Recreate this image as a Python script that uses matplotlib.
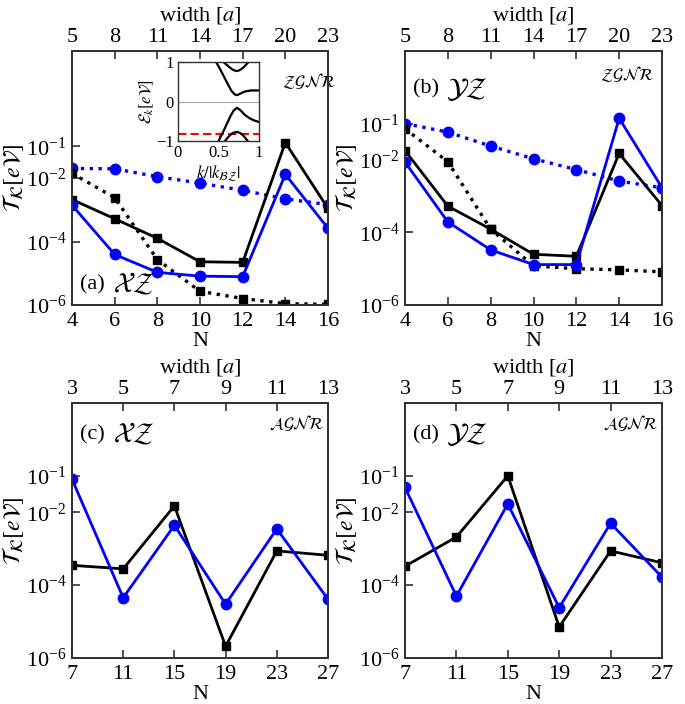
import matplotlib
matplotlib.use('Agg')
import matplotlib.pyplot as plt
from matplotlib.ticker import LogFormatterSciNotation, NullLocator

plt.rcParams['font.family'] = ['Liberation Serif', 'DejaVu Serif']
plt.rcParams['mathtext.fontset'] = 'stix'

# zigzag ribbons (panels a, b)
n_zz = [4, 6, 8, 10, 12, 14, 16]
w_zz = [5, 8, 11, 14, 17, 20, 23]
a_black = [2.1e-3, 5.2e-4, 1.26e-4, 2.3e-5, 2.2e-5, 0.13, 1.1e-3]
a_blue = [1.4e-3, 3.9e-5, 1.07e-5, 8.1e-6, 7.8e-6, 1.3e-2, 2.6e-4]
a_blue_dot = [2.0e-2, 1.95e-2, 1.1e-2, 6.9e-3, 4.1e-3, 2.2e-3, 1.45e-3]
a_black_dot = [1.4e-2, 2.4e-3, 2.7e-5, 2.7e-6, 1.6e-6, 1.1e-6, 1.05e-6]

b_black = [1.8e-2, 5.3e-4, 1.23e-4, 2.5e-5, 2.2e-5, 1.5e-2, 5.5e-4]
b_blue = [8.7e-3, 1.95e-4, 3.3e-5, 1.3e-5, 1.3e-5, 0.14, 1.7e-3]
b_blue_dot = [0.1, 5.8e-2, 2.4e-2, 1.07e-2, 5.4e-3, 2.6e-3, 1.7e-3]
b_black_dot = [7.2e-2, 8.9e-3, 1.23e-4, 1.2e-5, 1.0e-5, 9.3e-6, 8.2e-6]

# armchair ribbons (panels c, d)
n_ac = [7, 11, 15, 19, 23, 27]
w_ac = [3, 5, 7, 9, 11, 13]
c_blue = [8.1e-2, 4.5e-5, 4.4e-3, 3.0e-5, 3.5e-3, 4.1e-5]
c_black = [3.5e-4, 2.8e-4, 1.5e-2, 2.1e-6, 8.7e-4, 6.6e-4]
d_blue = [4.8e-2, 5.0e-5, 1.7e-2, 2.4e-5, 5.0e-3, 1.66e-4]
d_black = [3.3e-4, 2.1e-3, 0.1, 7.1e-6, 8.7e-4, 4.1e-4]

# inset band structure
k_c1 = [0.47, 0.52, 0.57, 0.62, 0.66, 0.70, 0.73, 0.77, 0.82, 0.90, 1.0]
e_c1 = [1.0, 0.82, 0.62, 0.42, 0.27, 0.18, 0.16, 0.20, 0.25, 0.28, 0.28]
k_c2 = [0.56, 0.60, 0.64, 0.68, 0.72, 0.76, 0.80, 0.84, 0.87]
e_c2 = [1.0, 0.93, 0.86, 0.80, 0.77, 0.79, 0.85, 0.93, 1.0]
k_v1 = [0.50, 0.55, 0.60, 0.65, 0.69, 0.73, 0.77, 0.82, 0.88, 0.94, 1.0]
e_v1 = [-1.0, -0.80, -0.58, -0.36, -0.22, -0.16, -0.22, -0.33, -0.42, -0.48, -0.52]
k_v2 = [0.58, 0.62, 0.66, 0.70, 0.73, 0.77, 0.81, 0.86]
e_v2 = [-1.0, -0.90, -0.82, -0.78, -0.77, -0.80, -0.87, -1.0]
e_fermi = -0.82

ylab = r'$\mathcal{T}_{\mathcal{K}}[e\mathcal{V}]$'
spine_col = '#333333'


def style(ax, n, w, ytop):
    ax.set_yscale('log')
    ax.set_xlim(n[0], n[-1])
    ax.set_ylim(1e-6, ytop)
    ax.set_xticks(n)
    ax.set_yticks([1e-6, 1e-4, 1e-2, 1e-1])
    ax.yaxis.set_major_formatter(LogFormatterSciNotation())
    ax.yaxis.set_minor_locator(NullLocator())
    ax.tick_params(direction='in', length=6, width=1.2, labelsize=16,
                   color=spine_col)
    ax.tick_params(axis='x', pad=5)
    ax.tick_params(axis='y', pad=4)
    ax.set_xlabel('N', fontsize=16, labelpad=1)
    ax.set_ylabel(ylab, fontsize=17, labelpad=0)
    for s in ax.spines.values():
        s.set_color(spine_col)
        s.set_linewidth(1.3)
    top = ax.twiny()
    top.set_xlim(ax.get_xlim())
    top.set_xticks(n)
    top.set_xticklabels([str(v) for v in w])
    top.tick_params(direction='in', length=6, width=1.2, labelsize=16,
                    color=spine_col, pad=3)
    top.set_xlabel(r'width [$a$]', fontsize=16, labelpad=5)
    for s in top.spines.values():
        s.set_color(spine_col)
        s.set_linewidth(1.3)


def solid(ax, x, y, col, mk, ms):
    ax.plot(x, y, '-', color=col, lw=2, marker=mk, ms=ms, zorder=3)


def dotted(ax, x, y, col, mk, ms):
    ax.plot(x, y, ':', color=col, lw=2.4, marker=mk, ms=ms, zorder=3)


fig = plt.figure(figsize=(6.85, 7.04), dpi=100)
W, H = 685, 704


def box(x0, y0, x1, y1):
    return [x0 / W, 1 - y1 / H, (x1 - x0) / W, (y1 - y0) / H]


ax_a = fig.add_axes(box(72, 51, 328, 305))
ax_b = fig.add_axes(box(405, 51, 662, 305))
ax_c = fig.add_axes(box(72, 403, 328, 658))
ax_d = fig.add_axes(box(405, 403, 662, 658))

# panel a
dotted(ax_a, n_zz, a_blue_dot, 'blue', 'o', 7.5)
dotted(ax_a, n_zz, a_black_dot, 'black', 's', 6)
solid(ax_a, n_zz, a_black, 'black', 's', 6)
solid(ax_a, n_zz, a_blue, 'blue', 'o', 7.5)
style(ax_a, n_zz, w_zz, 1e2)
ax_a.text(0.03, 0.08, '(a)', transform=ax_a.transAxes, fontsize=16, va='center')
ax_a.text(0.16, 0.08, r'$\mathcal{XZ}$', transform=ax_a.transAxes, fontsize=20,
          va='center')
ax_a.text(0.82, 0.88, r'$\mathcal{ZGNR}$', transform=ax_a.transAxes,
          fontsize=12, va='center')

# panel b
dotted(ax_b, n_zz, b_blue_dot, 'blue', 'o', 7.5)
dotted(ax_b, n_zz, b_black_dot, 'black', 's', 6)
solid(ax_b, n_zz, b_black, 'black', 's', 6)
solid(ax_b, n_zz, b_blue, 'blue', 'o', 7.5)
style(ax_b, n_zz, w_zz, 1e1)
ax_b.text(0.03, 0.85, '(b)', transform=ax_b.transAxes, fontsize=16, va='center')
ax_b.text(0.16, 0.85, r'$\mathcal{YZ}$', transform=ax_b.transAxes, fontsize=20,
          va='center')
ax_b.text(0.76, 0.91, r'$\mathcal{ZGNR}$', transform=ax_b.transAxes,
          fontsize=12, va='center')

# panel c
solid(ax_c, n_ac, c_black, 'black', 's', 6)
solid(ax_c, n_ac, c_blue, 'blue', 'o', 7.5)
style(ax_c, n_ac, w_ac, 1e1)
ax_c.text(0.03, 0.875, '(c)', transform=ax_c.transAxes, fontsize=16, va='center')
ax_c.text(0.16, 0.875, r'$\mathcal{XZ}$', transform=ax_c.transAxes, fontsize=20,
          va='center')
ax_c.text(0.77, 0.92, r'$\mathcal{AGNR}$', transform=ax_c.transAxes,
          fontsize=12, va='center')

# panel d
solid(ax_d, n_ac, d_black, 'black', 's', 6)
solid(ax_d, n_ac, d_blue, 'blue', 'o', 7.5)
style(ax_d, n_ac, w_ac, 1e1)
ax_d.text(0.03, 0.875, '(d)', transform=ax_d.transAxes, fontsize=16, va='center')
ax_d.text(0.16, 0.875, r'$\mathcal{YZ}$', transform=ax_d.transAxes, fontsize=20,
          va='center')
ax_d.text(0.77, 0.92, r'$\mathcal{AGNR}$', transform=ax_d.transAxes,
          fontsize=12, va='center')

# inset with bands
ins = fig.add_axes(box(178, 62, 259, 141))
ins.axhline(0, color='#aaaaaa', lw=0.8)
ins.axhline(e_fermi, color='red', lw=1.5, ls=(0, (4, 2)))
for kk, ee in [(k_c1, e_c1), (k_c2, e_c2), (k_v1, e_v1), (k_v2, e_v2)]:
    ins.plot(kk, ee, color='black', lw=1.6)
ins.set_xlim(0, 1)
ins.set_ylim(-1, 1)
ins.set_xticks([0, 0.5, 1])
ins.set_xticklabels(['0', '0.5', '1'])
ins.set_yticks([-1, 0, 1])
ins.set_yticklabels(['\u22121', '0', '1'])
ins.tick_params(direction='in', length=4, labelsize=12, pad=3, color=spine_col)
ins.set_xlabel(r'$k/|k_{\mathcal{BZ}}|$', fontsize=12, labelpad=1)
ins.set_ylabel(r'$\mathcal{E}_k[e\mathcal{V}]$', fontsize=12, labelpad=0)
for s in ins.spines.values():
    s.set_color(spine_col)
    s.set_linewidth(1.0)

fig.savefig('out.png', dpi=100)
